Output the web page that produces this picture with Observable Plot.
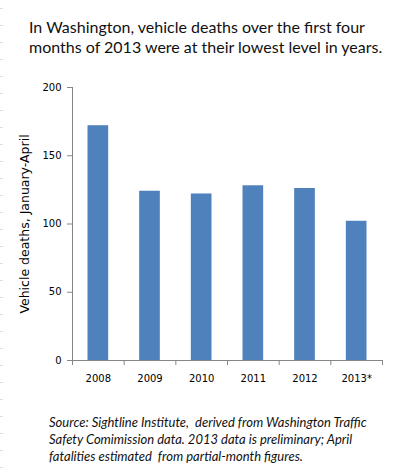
<!DOCTYPE html>
<html>
<head>
<meta charset="utf-8">
<script src="https://cdn.jsdelivr.net/npm/d3@7"></script>
<script src="https://cdn.jsdelivr.net/npm/@observablehq/plot@0.6"></script>
<style>
  body { margin: 0; background: #fff; }
  #wrap { position: relative; width: 400px; height: 475px; overflow: hidden; background: #fff; }
  #ruler { position: absolute; left: 0; top: 0; width: 3px; height: 475px;
    background: repeating-linear-gradient(to bottom, transparent 0 8px, #dcdcdc 8px 9px, transparent 9px 17px); }
  #title { position: absolute; left: 29px; top: 17px; width: 370px; font-family: Lato, sans-serif; font-size: 16px; line-height: 20px; color: #111; white-space: nowrap; }
  #chart { position: absolute; left: 0; top: 0; }
  #caption { position: absolute; left: 49px; top: 413.5px; width: 350px; font-family: Lato, sans-serif; font-style: italic; font-size: 13px; line-height: 17px; color: #111; white-space: nowrap; }
</style>
</head>
<body>
<div id="wrap">
  <div id="ruler"></div>
  <div id="chart"></div>
  <div id="title"></div>
  <div id="caption"></div>
</div>
<script>
const titleLines = [
  "In Washington, vehicle deaths over the first four",
  "months of 2013 were at their lowest level in years."
];
const captionLines = [
  "Source: Sightline Institute,  derived from Washington Traffic",
  "Safety Comimission data. 2013 data is preliminary; April",
  "fatalities estimated  from partial-month figures."
];
const yLabel = "Vehicle deaths, January-April";
const years = ["2008", "2009", "2010", "2011", "2012", "2013*"];
const deaths = [172, 124, 122, 128, 126, 102];
const yTicks = [0, 50, 100, 150, 200];

const data = years.map((year, i) => ({year, i, value: deaths[i]}));
const axisColor = "#868686";

document.getElementById("title").innerHTML = titleLines.join("<br>");
document.getElementById("caption").innerHTML = captionLines.map(s => s.replace(/  /g, " &nbsp;")).join("<br>");

const chart = Plot.plot({
  width: 400,
  height: 390,
  marginTop: 87,
  marginBottom: 30,
  marginLeft: 72,
  marginRight: 18,
  style: {fontFamily: "DejaVu Sans, sans-serif", fontSize: "10px", color: "#000", background: "transparent"},
  x: {type: "linear", domain: [0, years.length]},
  y: {domain: [0, 200]},
  marks: [
    Plot.rectY(data, {x1: d => d.i + 0.3, x2: d => d.i + 0.7, y1: 0, y2: "value", fill: "#4F81BD"}),
    Plot.ruleX([0], {stroke: axisColor}),
    Plot.ruleY([0], {stroke: axisColor}),
    Plot.axisY({ticks: yTicks, tickSize: 5, tickPadding: 6, stroke: axisColor, strokeOpacity: 1, label: null, fill: "#000"}),
    Plot.axisX({ticks: d3.range(0, years.length + 1), tickSize: 5, tickFormat: () => "", stroke: axisColor, strokeOpacity: 1, label: null}),
    Plot.axisX({ticks: years.map((d, i) => i + 0.5), tickSize: 0, tickPadding: 14.5, tickFormat: v => years[Math.round(v - 0.5)], label: null, fill: "#000"}),
    Plot.text([yLabel], {frameAnchor: "left", textAnchor: "middle", rotate: -90, dx: -48, fontFamily: "DejaVu Sans, sans-serif", fontSize: 12.5, fill: "#000"})
  ]
});
document.getElementById("chart").appendChild(chart);
</script>
</body>
</html>
